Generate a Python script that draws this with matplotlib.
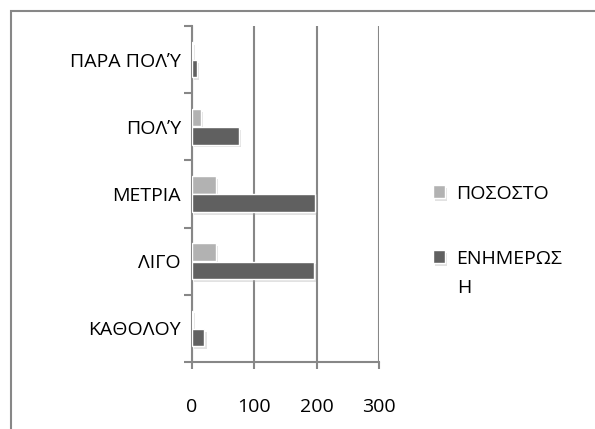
import numpy as np
import matplotlib.pyplot as plt
import matplotlib.patheffects as pe
from matplotlib.patches import Rectangle

plt.rcParams['font.family'] = ['Open Sans', 'DejaVu Sans']

categories = ['ΚΑΘΟΛΟΥ', 'ΛΙΓΟ', 'ΜΕΤΡΙΑ', 'ΠΟΛΎ', 'ΠΑΡΑ ΠΟΛΎ']
enimerosi = [20, 195, 197, 76, 8]
pososto = [2, 38, 38, 14, 2]
xticks = [0, 100, 200, 300]

dark = '#606060'
light = '#b2b2b2'
grey = '#878787'
fs = 14

fig = plt.figure(figsize=(5.95, 4.29), dpi=100)
ax = fig.add_axes([192/595, 1 - 362/429, 187/595, 336/429])

y = np.arange(len(categories))
shadow = [pe.SimplePatchShadow(offset=(1.5, -2), shadow_rgbFace='#a0a0a0', alpha=0.3), pe.Normal()]
b1 = ax.barh(y + 0.135, pososto, height=0.26, color=light, edgecolor='white',
             linewidth=1, label='ΠΟΣΟΣΤΟ', zorder=3)
b2 = ax.barh(y - 0.135, enimerosi, height=0.26, color=dark, edgecolor='white',
             linewidth=1, label='ΕΝΗΜΕΡΩΣ', zorder=3)
for bar in list(b1) + list(b2):
    bar.set_path_effects(shadow)

ax.set_xlim(0, 300)
ax.set_ylim(-0.5, len(categories) - 0.5)
ax.set_xticks(xticks)
ax.set_yticks(np.arange(-0.5, len(categories)), labels=[''] * (len(categories) + 1))
ax.set_yticks(y, labels=categories, minor=True)
ax.tick_params(axis='y', which='major', length=6, width=1.5, color=grey)
ax.tick_params(axis='y', which='minor', length=0, pad=8, labelsize=fs)
ax.tick_params(axis='x', length=5, width=1.5, color=grey, pad=21, labelsize=fs)
ax.grid(axis='x', color=grey, linewidth=1.5, zorder=0)
ax.set_axisbelow(True)
for side in ['top', 'right']:
    ax.spines[side].set_visible(False)
for side in ['left', 'bottom']:
    ax.spines[side].set_color(grey)
    ax.spines[side].set_linewidth(1.5)

leg = ax.legend(loc='upper left', bbox_to_anchor=(419/595, 1 - 171/429),
                bbox_transform=fig.transFigure, frameon=False, fontsize=fs,
                handlelength=0.65, handleheight=0.65, handletextpad=0.55,
                labelspacing=2.42, borderpad=0.2)
# second line of the wrapped legend label
fig.text(457/595, 1 - 288/429, 'Η', fontsize=fs, va='center', ha='left')

# outer chart border
fig.patches.append(Rectangle((10.5/595, -0.1), 1.2, 1.1 - 11.5/429,
                             transform=fig.transFigure, fill=False,
                             edgecolor=grey, linewidth=1.5))

fig.savefig('out.png', dpi=100)
